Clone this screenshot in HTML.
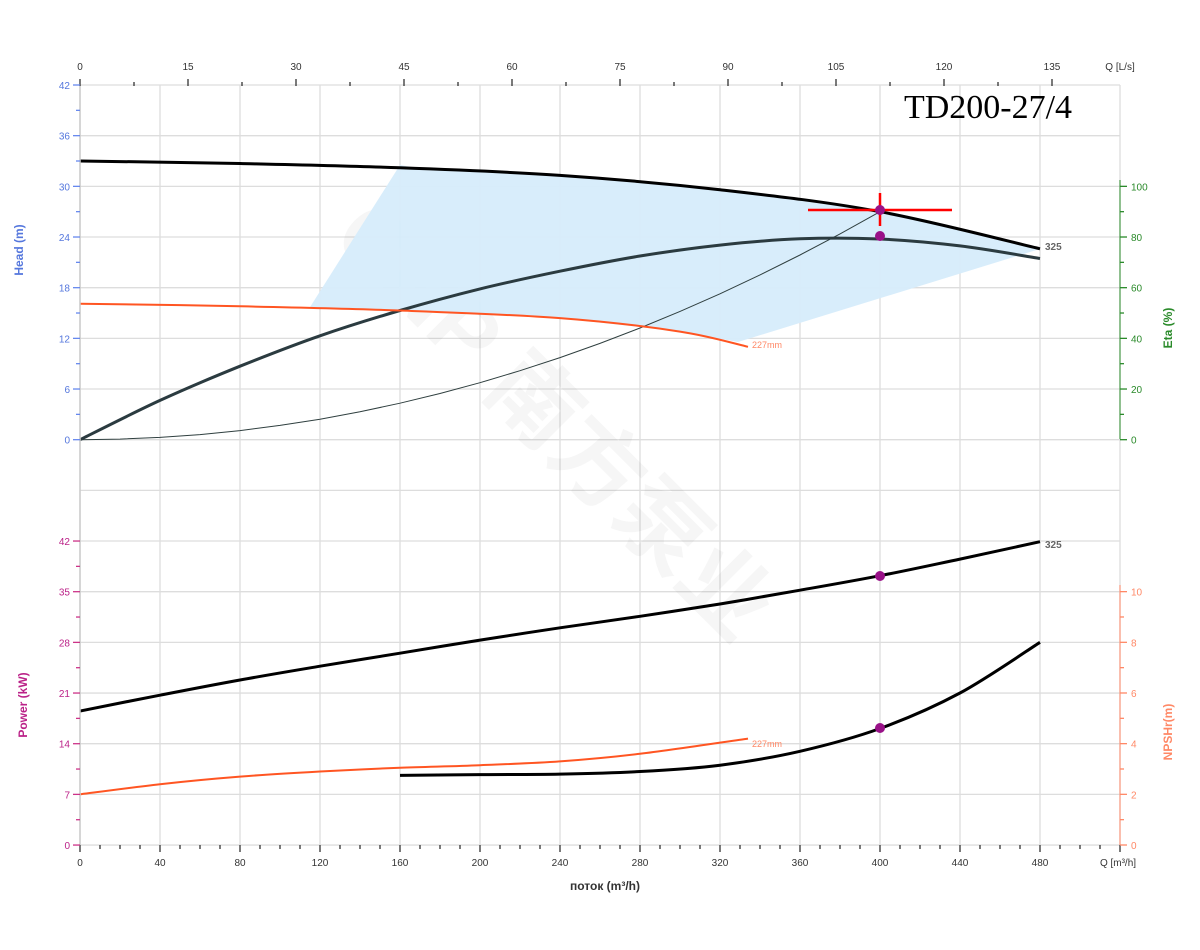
<!DOCTYPE html>
<html><head><meta charset="utf-8"><style>
html,body{margin:0;padding:0;background:#fff}
svg{display:block;font-family:"Liberation Sans",sans-serif}
</style></head><body>
<svg id="s" width="1200" height="950" viewBox="0 0 1200 950" xmlns="http://www.w3.org/2000/svg"></svg>
<script>
const S=document.getElementById('s');let h='';
const G=50.67,Y=k=>85+G*k;
const X=q=>80+2*q;
const yH=v=>85+(42-v)*G/6, yE=v=>Y(7)-v*G/20, yP=v=>845-v*G/7, yN=v=>845-v*G/2;
for(let k=0;k<=15;k++)h+=`<line x1="80" x2="1120" y1="${Y(k)}" y2="${Y(k)}" stroke="#ddd" stroke-width="1.3"/>`;
for(let q=0;q<=520;q+=40)h+=`<line x1="${X(q)}" x2="${X(q)}" y1="85" y2="845" stroke="#ddd" stroke-width="1.3"/>`;
h+=`<text x="0" y="0" transform="translate(330,240) rotate(45)" font-size="90" font-weight="bold" fill="#000" fill-opacity="0.035" font-family="Liberation Sans,Noto Sans CJK SC,sans-serif">CNP 南方泵业</text>`;
function path(pts,fn){return pts.map((p,i)=>(i?'L':'M')+X(p[0]).toFixed(1)+','+fn(p[1]).toFixed(1)).join(' ');}
function spline(pts,fn){
 const P=pts.map(p=>[X(p[0]),fn(p[1])]);let d='M'+P[0][0]+','+P[0][1];
 for(let i=0;i<P.length-1;i++){const p0=P[i-1]||P[i],p1=P[i],p2=P[i+1],p3=P[i+2]||p2;
 d+=` C${(p1[0]+(p2[0]-p0[0])/6).toFixed(1)},${(p1[1]+(p2[1]-p0[1])/6).toFixed(1)} ${(p2[0]-(p3[0]-p1[0])/6).toFixed(1)},${(p2[1]-(p3[1]-p1[1])/6).toFixed(1)} ${p2[0].toFixed(1)},${p2[1].toFixed(1)}`;}
 return d;}
let head=[[0,33],[80,32.7],[160,32.2],[240,31.3],[320,29.6],[400,27],[480,22.6]];
let h227=[[0,16.1],[80,15.8],[160,15.3],[240,14.4],[300,12.8],[334,11]];
h+=`<polygon points="400,165 ${[[170,32.1],[240,31.3],[320,29.6],[400,27],[480,22.6]].map(p=>X(p[0])+','+yH(p[1])).join(' ')} 1030,252 738,342 ${[[300,12.8],[240,14.4],[160,15.3],[115,15.7]].map(p=>X(p[0])+','+yH(p[1])).join(' ')}" fill="#d6ecfb" fill-opacity="0.95"/>`;
let sys=[];for(let q=0;q<=400;q+=20)sys.push([q,27*q*q/160000]);
h+=`<path d="${path(sys,yH)}" fill="none" stroke="#2f3f3f" stroke-width="1"/>`;
h+=`<path d="${spline(head,yH)}" fill="none" stroke="#000" stroke-width="3"/>`;
h+=`<path d="${spline([[0,0],[40,15.5],[80,29],[120,41],[160,51],[200,59.5],[240,66.5],[280,72.5],[320,76.8],[360,79.3],[400,79.2],[440,76.5],[480,71.5]],yE)}" fill="none" stroke="#2b3b40" stroke-width="3"/>`;
h+=`<path d="${spline(h227,yH)}" fill="none" stroke="#ff5522" stroke-width="2"/>`;
h+=`<text x="752" y="348" font-size="9" fill="#ff8866">227mm</text>`;
h+=`<text x="1045" y="250" font-size="10" font-weight="bold" fill="#666">325</text>`;
h+=`<line x1="808" x2="952" y1="210" y2="210" stroke="#f00" stroke-width="2.5"/><line x1="880" x2="880" y1="193" y2="226" stroke="#f00" stroke-width="2.5"/>`;
h+=`<circle cx="880" cy="210" r="5" fill="#991188"/><circle cx="880" cy="236" r="5" fill="#991188"/>`;
h+=`<path d="${spline([[0,18.5],[40,20.7],[80,22.8],[120,24.7],[160,26.5],[200,28.3],[240,30],[280,31.6],[320,33.3],[360,35.2],[400,37.2],[440,39.5],[480,41.9]],yP)}" fill="none" stroke="#000" stroke-width="3"/>`;
h+=`<text x="1045" y="548" font-size="10" font-weight="bold" fill="#666">325</text>`;
h+=`<path d="${spline([[160,2.75],[200,2.78],[240,2.8],[280,2.9],[320,3.15],[360,3.7],[400,4.6],[440,6.0],[480,8.0]],yN)}" fill="none" stroke="#000" stroke-width="3"/>`;
h+=`<path d="${spline([[0,2],[40,2.4],[80,2.7],[120,2.9],[160,3.05],[200,3.15],[240,3.3],[280,3.6],[334,4.2]],yN)}" fill="none" stroke="#ff5522" stroke-width="2"/>`;
h+=`<text x="752" y="747" font-size="9" fill="#ff8866">227mm</text>`;
h+=`<circle cx="880" cy="576" r="5" fill="#991188"/><circle cx="880" cy="728" r="5" fill="#991188"/>`;
h+=`<line x1="80" x2="80" y1="85" y2="845" stroke="#ccc" stroke-width="1.5"/>`;
h+=`<line x1="1120" x2="1120" y1="180" y2="439" stroke="#2a8a2a" stroke-width="1"/><line x1="1120" x2="1120" y1="585" y2="845" stroke="#ff8866" stroke-width="1"/>`;
for(let i=0;i<=18;i++){const x=80+7.2*7.5*i;h+=`<line x1="${x}" x2="${x}" y1="${i%2?82:79}" y2="86" stroke="#333" stroke-width="1.3"/>`;if(i%2==0)h+=`<text x="${x}" y="70" font-size="10" text-anchor="middle" fill="#333">${7.5*i}</text>`;}
h+=`<text x="1120" y="70" font-size="10" text-anchor="middle" fill="#333">Q [L/s]</text>`;
for(let q=0;q<=520;q+=10){const x=X(q);h+=`<line x1="${x}" x2="${x}" y1="845" y2="${q%40?849:852}" stroke="#333" stroke-width="1.3"/>`;if(q%40==0&&q<=480)h+=`<text x="${x}" y="866" font-size="10" text-anchor="middle" fill="#333">${q}</text>`;}
h+=`<text x="1118" y="866" font-size="10" text-anchor="middle" fill="#333">Q [m³/h]</text>`;
h+=`<text x="605" y="890" font-size="12" font-weight="bold" text-anchor="middle" fill="#333">поток (m³/h)</text>`;
for(let i=0;i<=14;i++){const y=85+i*G/2;h+=`<line x1="${i%2?76:73}" x2="80" y1="${y}" y2="${y}" stroke="#6688ee" stroke-width="1.3"/>`;if(i%2==0)h+=`<text x="70" y="${y+4}" font-size="10" text-anchor="end" fill="#5577dd">${42-3*i}</text>`;}
for(let i=0;i<=12;i++){const y=Y(9)+i*G/2;h+=`<line x1="${i%2?76:73}" x2="80" y1="${y}" y2="${y}" stroke="#cc3388" stroke-width="1.3"/>`;if(i%2==0)h+=`<text x="70" y="${y+4}" font-size="10" text-anchor="end" fill="#bb2288">${42-3.5*i}</text>`;}
for(let i=0;i<=10;i++){const y=Y(7)-i*G/2;h+=`<line x1="1120" x2="${i%2?1124:1127}" y1="${y}" y2="${y}" stroke="#2a8a2a" stroke-width="1.3"/>`;if(i%2==0)h+=`<text x="1131" y="${y+4}" font-size="10" fill="#2a8a2a">${10*i}</text>`;}
for(let i=0;i<=10;i++){const y=845-i*G/2;h+=`<line x1="1120" x2="${i%2?1124:1127}" y1="${y}" y2="${y}" stroke="#ff8866" stroke-width="1.3"/>`;if(i%2==0)h+=`<text x="1131" y="${y+4}" font-size="10" fill="#ff8866">${i}</text>`;}
h+=`<text transform="translate(23,250) rotate(-90)" font-size="12" font-weight="bold" text-anchor="middle" fill="#5577dd">Head (m)</text>`;
h+=`<text transform="translate(27,705) rotate(-90)" font-size="12" font-weight="bold" text-anchor="middle" fill="#bb2288">Power (kW)</text>`;
h+=`<text transform="translate(1172,328) rotate(-90)" font-size="12" font-weight="bold" text-anchor="middle" fill="#2a8a2a">Eta (%)</text>`;
h+=`<text transform="translate(1172,732) rotate(-90)" font-size="12" font-weight="bold" text-anchor="middle" fill="#ff8866">NPSHr(m)</text>`;
h+=`<text x="988" y="118" font-size="34" text-anchor="middle" fill="#000" font-family="Liberation Serif,serif">TD200-27/4</text>`;
S.innerHTML=h;
</script>
</body></html>
